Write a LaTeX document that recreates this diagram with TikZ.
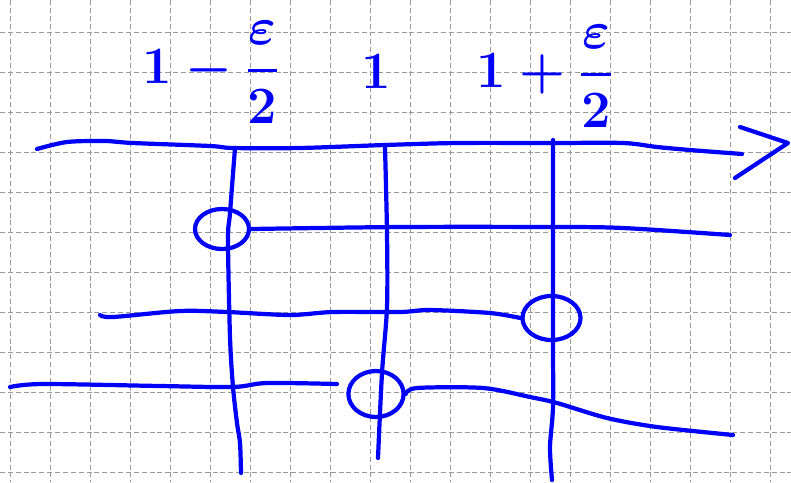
\documentclass[tikz,border=0pt]{standalone}
\usepackage{graphicx}
\usepackage{xcolor}
\usepackage{tikz}
\usetikzlibrary{shapes.geometric}

\definecolor{inkblue}{RGB}{0,0,250}

\begin{document}
\begin{tikzpicture}[
  x=0.025cm, y=-0.025cm,
  gridline/.style={gray!80, line width=0.95pt, dash pattern=on 3.5pt off 2.1pt},
  pen/.style={inkblue, line width=3pt, line cap=round, line join=round},
  ring/.style={ellipse, draw=inkblue, line width=3pt, inner sep=0pt},
  tag/.style={inkblue, inner sep=0pt, font=\fontsize{24.88}{30}\selectfont\boldmath}
]
\useasboundingbox (0,0) rectangle (791,482);
\foreach \gx in {0,...,19} \draw[gridline] (10.7+40*\gx,0) -- (10.7+40*\gx,482);
\foreach \gy in {0,...,11} \draw[gridline] (0,32.7+40*\gy) -- (791,32.7+40*\gy);

\node[tag] (lblLow) at (211,72) {\scalebox{1.5}{$\displaystyle 1-{\varepsilon\above1.6pt 2}$}};
\node[tag] (lblOne) at (376,72) {\scalebox{1.5}{$1$}};
\node[tag] (lblHigh) at (545,76) {\scalebox{1.5}{$\displaystyle 1+{\varepsilon\above1.6pt 2}$}};

\coordinate (ax0) at (37,149);
\coordinate (ax1) at (742,154);
\coordinate (arrU) at (740,127);
\coordinate (arrT) at (788,143);
\coordinate (arrL) at (735,178);
\draw[pen] plot[smooth] coordinates {(ax0) (67,142) (105,141) (133,143) (210,146) (233,148)
  (300,148) (385,145) (457,143) (553,143) (623,143) (657,147) (690,150) (ax1)};
\draw[pen] (arrU) -- (arrT) -- (arrL);

\coordinate (v1a) at (235,148);
\coordinate (v1b) at (241,473);
\coordinate (v2a) at (385,147);
\coordinate (v2b) at (378,458);
\coordinate (v3a) at (553,140);
\coordinate (v3b) at (552,480);
\draw[pen] plot[smooth] coordinates {(v1a) (230,213) (228,240) (230,337) (233,387) (237,423) (240,443) (v1b)};
\draw[pen] plot[smooth] coordinates {(v2a) (387,233) (387,307) (382,373) (v2b)};
\draw[pen] plot[smooth] coordinates {(v3a) (553,233) (553,340) (553,407) (550,447) (v3b)};

\node[ring, minimum width=1.35cm, minimum height=1.0cm] (c1) at (222,229) {};
\node[ring, minimum width=1.45cm, minimum height=1.1cm] (c3) at (551.5,318) {};
\node[ring, minimum width=1.38cm, minimum height=1.15cm] (c2) at (376,394) {};

\coordinate (h1b) at (730,235);
\coordinate (h2a) at (100,315);
\coordinate (h3a) at (10,387);
\coordinate (h3b) at (337,384);
\coordinate (h4b) at (733,435);
\draw[pen] plot[smooth] coordinates {(c1.east) (400,227) (553,227) (623,228) (h1b)};
\draw[pen] plot[smooth] coordinates {(h2a) (113,317) (180,311) (227,312) (290,315) (333,312) (400,312)
  (430,310) (490,313) (c3.west)};
\draw[pen] plot[smooth] coordinates {(h3a) (43,384) (160,386) (233,387) (267,383) (h3b)};
\draw[pen] plot[smooth] coordinates {(c2.east) (417,388) (483,388) (530,397) (557,403) (607,418)
  (657,427) (h4b)};
\end{tikzpicture}
\end{document}
